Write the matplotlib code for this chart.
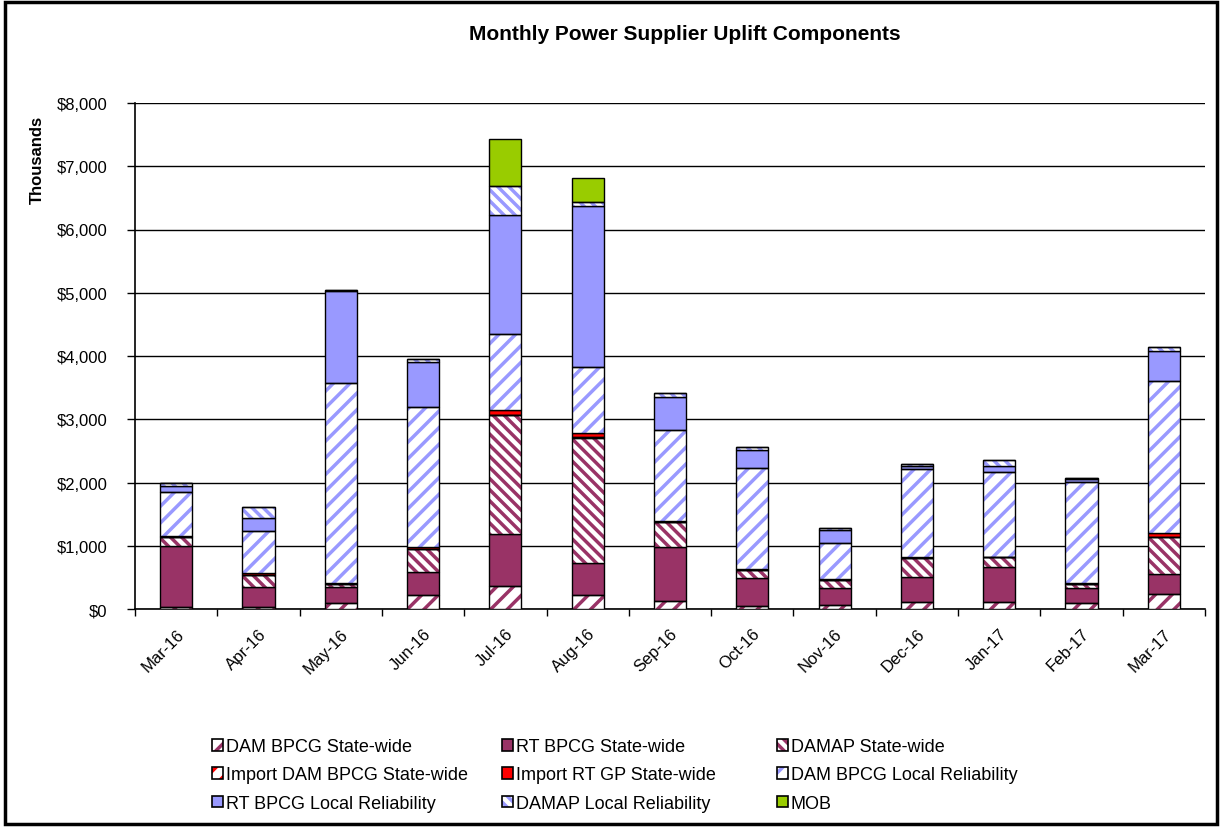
import numpy
import matplotlib
matplotlib.use('Agg')
import matplotlib.pyplot
import matplotlib.patches
import matplotlib.ticker

matplotlib.pyplot.rcParams.update({'font.family': ['Liberation Sans', 'DejaVu Sans'], 'hatch.linewidth': 2.5})

months = ['Mar-16', 'Apr-16', 'May-16', 'Jun-16', 'Jul-16', 'Aug-16', 'Sep-16',
          'Oct-16', 'Nov-16', 'Dec-16', 'Jan-17', 'Feb-17', 'Mar-17']

# values in thousands of $
dam_sw = [37, 37, 95, 220, 370, 220, 130, 50, 60, 115, 115, 90, 237]
rt_sw = [955, 305, 250, 360, 815, 510, 855, 440, 265, 385, 550, 235, 316]
damap_sw = [140, 195, 55, 370, 1880, 1980, 385, 127, 133, 310, 150, 70, 580]
imp_dam = [5, 5, 3, 5, 10, 10, 3, 3, 3, 3, 3, 3, 5]
imp_rt = [15, 22, 7, 20, 70, 60, 12, 12, 13, 17, 9, 12, 62]
dam_lr = [700, 674, 3170, 2225, 1200, 1040, 1450, 1590, 574, 1380, 1345, 1600, 2400]
rt_lr = [88, 195, 1440, 700, 1880, 2550, 515, 290, 200, 45, 90, 50, 474]
damap_lr = [50, 175, 25, 47, 460, 70, 65, 44, 30, 30, 88, 16, 63]
mob = [0, 0, 0, 0, 740, 370, 0, 0, 0, 0, 0, 0, 0]

maroon = '#993366'
blue = '#9999ff'
# (label, values, colour, hatch)
series = [
    ('DAM BPCG State-wide', dam_sw, maroon, '//'),
    ('RT BPCG State-wide', rt_sw, maroon, None),
    ('DAMAP State-wide', damap_sw, maroon, '\\\\\\'),
    ('Import DAM BPCG State-wide', imp_dam, '#ff0000', '//'),
    ('Import RT GP State-wide', imp_rt, '#ff0000', None),
    ('DAM BPCG Local Reliability', dam_lr, blue, '//'),
    ('RT BPCG Local Reliability', rt_lr, blue, None),
    ('DAMAP Local Reliability', damap_lr, blue, '\\\\\\'),
    ('MOB', mob, '#99cc00', None),
]

fig = matplotlib.pyplot.figure(figsize=(12.22, 8.28), dpi=100)
ax = fig.add_axes([135/1222, 1-610/828, 1070/1222, 506/828])

x = numpy.arange(len(months))
w = 0.39
bottom = numpy.zeros(len(months))
handles = []
for lab, vals, col, hat in series:
    vals = numpy.array(vals, dtype=float)
    if hat is None:
        ax.bar(x, vals, w, bottom=bottom, color=col, edgecolor='black', lw=1, zorder=3)
        h = matplotlib.patches.Patch(facecolor=col, edgecolor='black', lw=1.2)
    else:
        ax.bar(x, vals, w, bottom=bottom, color='white', edgecolor=col, hatch=hat, lw=0, zorder=3)
        ax.bar(x, vals, w, bottom=bottom, color='none', edgecolor='black', lw=1, zorder=4)
        h = (matplotlib.patches.Patch(facecolor='white', edgecolor=col, hatch=hat, lw=0),
             matplotlib.patches.Patch(facecolor='none', edgecolor='black', lw=1.2))
    handles.append((h, lab))
    bottom += vals

ax.set_xlim(-0.5, len(months) - 0.5)
ax.set_ylim(0, 8000)
ax.set_yticks(range(0, 8001, 1000))
ax.yaxis.set_major_formatter(matplotlib.ticker.FuncFormatter(lambda v, p: '${:,.0f}'.format(v)))
ax.set_xticks(x)
ax.set_xticklabels(months, rotation=45, ha='right', rotation_mode='anchor', fontsize=12)
ax.set_xticks(numpy.arange(-0.5, len(months)), minor=True)
ax.tick_params(axis='x', which='major', length=0, pad=12)
ax.tick_params(axis='x', which='minor', length=5, width=1, direction='out')
ax.tick_params(axis='y', length=6, width=1, labelsize=12, pad=14)
ax.grid(axis='y', color='black', lw=1, zorder=0)
for s in ['top', 'right']:
    ax.spines[s].set_visible(False)
for s in ['left', 'bottom']:
    ax.spines[s].set_linewidth(1.2)

fig.text(685/1222, 1-34/828, 'Monthly Power Supplier Uplift Components', ha='center', va='center',
         fontsize=15, fontweight='bold')
fig.text(37/1222, 1-160/828, 'Thousands', rotation=90, ha='center', va='center',
         fontsize=12, fontweight='bold')

# one legend per column so the columns sit where Excel put them
col_x = [212, 502, 777]
for c in range(3):
    items = handles[c::3]
    fig.legend(handles=[h for h, l in items], labels=[l for h, l in items],
               loc='center left', bbox_to_anchor=(col_x[c]/1222, 1-776/828),
               frameon=False, fontsize=13,
               handlelength=0.6, handleheight=0.6, handletextpad=0.15,
               labelspacing=0.62, borderpad=0, borderaxespad=0)

fig.add_artist(matplotlib.patches.Rectangle((0.004, 0.004), 0.992, 0.992, transform=fig.transFigure,
                                            fill=False, edgecolor='black', lw=2.5))

fig.savefig('out.png')
